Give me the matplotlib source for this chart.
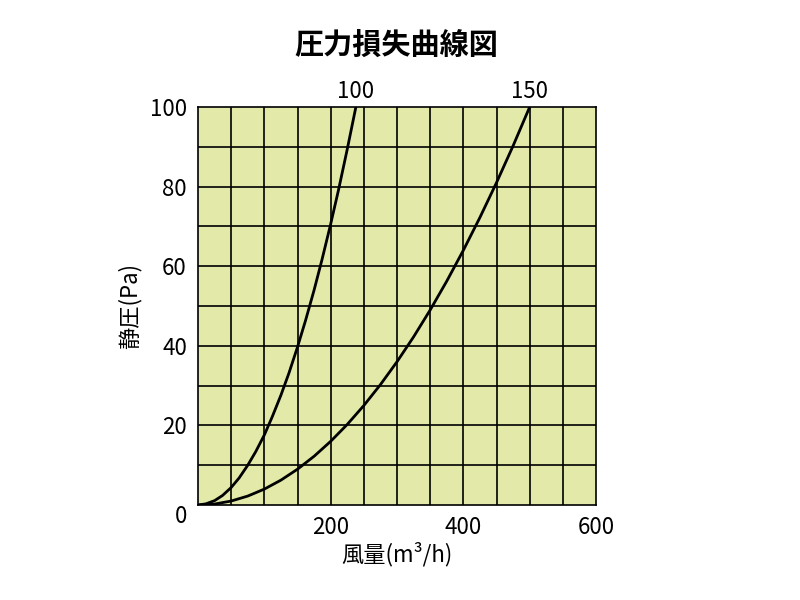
import matplotlib
matplotlib.use("Agg")
import matplotlib.pyplot as plt

plt.rcParams['font.family'] = ['Noto Sans CJK JP', 'DejaVu Sans']

x100 = [0, 12, 25, 37, 50, 62, 75, 87, 100, 112, 125, 137, 150, 162, 175, 187, 200, 212, 225, 238]
y100 = [0, 0.3, 1.1, 2.4, 4.4, 6.8, 10, 13.4, 17.6, 22.2, 27.6, 33.1, 39.7, 46.3, 54, 61.7, 70.6, 79.3, 89.4, 100]
x150 = [0, 25, 50, 75, 100, 125, 150, 175, 200, 225, 250, 275, 300, 325, 350, 375, 400, 425, 450, 475, 500]
y150 = [0, 0.25, 1, 2.25, 4, 6.25, 9, 12.25, 16, 20.25, 25, 30.25, 36, 42.25, 49, 56.25, 64, 72.25, 81, 90.25, 100]
xticks = [200, 400, 600]
yticks = [20, 40, 60, 80, 100]

fig = plt.figure(figsize=(8, 6), dpi=100)
ax = fig.add_axes([0.2475, 0.1583, 0.4975, 0.6633])
ax.set_facecolor('#e3eaa9')
ax.set_xlim(0, 600)
ax.set_ylim(0, 100)
for gx in range(50, 600, 50):
    ax.axvline(gx, color='black', lw=1.2)
for gy in range(10, 100, 10):
    ax.axhline(gy, color='black', lw=1.2)
for s in ax.spines.values():
    s.set_linewidth(1.2)

ax.plot(x100, y100, color='black', lw=2)
ax.plot(x150, y150, color='black', lw=2)
ax.text(238, 101, '100', ha='center', va='bottom', fontsize=16)
ax.text(500, 101, '150', ha='center', va='bottom', fontsize=16)

ax.set_xticks(xticks)
ax.set_yticks(yticks)
ax.tick_params(length=0, labelsize=16, pad=8)
ax.text(-25, -3, '0', ha='center', va='center', fontsize=16)
ax.set_xlabel('風量(m³/h)', fontsize=16, labelpad=2)
ax.set_ylabel('静圧(Pa)', fontsize=16, labelpad=6)
fig.text(0.495, 0.925, '圧力損失曲線図', ha='center', va='center', fontsize=21, fontweight='bold')
fig.savefig('out.png')
